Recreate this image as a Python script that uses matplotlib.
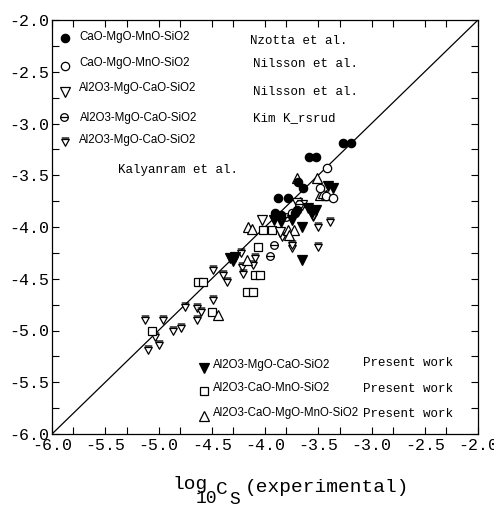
import numpy as np
import matplotlib
matplotlib.use("Agg")
import matplotlib.pyplot as plt
from matplotlib.path import Path
from matplotlib.ticker import MultipleLocator, FixedLocator

# data (log10 Cs, experimental vs calculated)
nzotta_x = [-3.27, -3.19, -3.59, -3.52, -3.69, -3.64, -3.88, -3.78, -3.91, -3.85, -3.70, -3.72]
nzotta_y = [-3.19, -3.19, -3.32, -3.32, -3.57, -3.62, -3.72, -3.72, -3.86, -3.88, -3.84, -3.86]

nilsson1_x = [-3.42, -3.48, -3.43, -3.36, -3.75]
nilsson1_y = [-3.43, -3.62, -3.70, -3.72, -3.86]

nilsson2_x = [-4.03, -3.70, -3.65, -3.55, -3.86]
nilsson2_y = [-3.93, -3.77, -3.79, -3.88, -4.05]

kim_x = [-3.92, -3.95, -3.80, -3.68]
kim_y = [-4.17, -4.28, -3.90, -3.78]

kaly_x = [-5.13, -4.96, -5.03, -5.10, -5.00, -4.86, -4.79, -4.75, -4.64, -4.60, -4.64,
          -4.49, -4.39, -4.36, -4.49, -4.23, -4.22, -4.21, -4.11, -4.09, -3.84, -3.75,
          -3.50, -3.39, -3.55, -3.50, -3.75]
kaly_y = [-4.90, -4.90, -5.06, -5.19, -5.14, -5.00, -4.98, -4.77, -4.78, -4.82, -4.90,
          -4.42, -4.46, -4.53, -4.71, -4.25, -4.39, -4.45, -4.37, -4.30, -4.10, -4.20,
          -4.19, -3.95, -3.90, -4.00, -4.17]

pw1_x = [-3.41, -3.36, -3.60, -3.52, -3.56, -3.65, -3.75, -3.92, -3.85, -3.65, -4.33, -4.28, -4.30]
pw1_y = [-3.60, -3.62, -3.82, -3.84, -3.86, -4.00, -3.93, -3.93, -3.95, -4.32, -4.30, -4.29, -4.33]

pw2_x = [-4.63, -4.58, -4.17, -4.11, -4.09, -4.05, -4.50, -4.07, -5.06, -4.02, -3.93]
pw2_y = [-4.53, -4.53, -4.63, -4.63, -4.46, -4.46, -4.82, -4.19, -5.00, -4.03, -4.03]

pw3_x = [-3.70, -3.51, -3.48, -3.43, -4.16, -3.78, -3.73, -3.46, -3.67, -4.17, -4.44, -3.77, -4.12]
pw3_y = [-3.53, -3.53, -3.69, -3.69, -4.00, -4.03, -4.03, -3.67, -3.76, -4.32, -4.85, -4.08, -4.02]

ticks = [-6.0, -5.5, -5.0, -4.5, -4.0, -3.5, -3.0, -2.5, -2.0]

# custom markers
kim_marker = Path.make_compound_path(
    Path.unit_circle(), Path([(-1, 0), (1, 0)], [Path.MOVETO, Path.LINETO]))
kaly_marker = Path([(-1, 0.8), (1, 0.8), (0, -1), (-1, 0.8), (-1, 1.2), (1, 1.2)],
                   [Path.MOVETO, Path.LINETO, Path.LINETO, Path.CLOSEPOLY,
                    Path.MOVETO, Path.LINETO])

mono = "Liberation Mono"
sans = "Liberation Sans"

fig = plt.figure(figsize=(4.94, 5.08), dpi=100)
ax = fig.add_axes([52 / 494, 74 / 508, 426 / 494, 414 / 508])

ax.plot([-6, -2], [-6, -2], color="black", lw=0.9, zorder=1)

ms = 6.5
styles = {
    "nzotta": dict(marker="o", mfc="black", mec="black", ms=ms - 0.5),
    "nilsson1": dict(marker="o", mfc="white", mec="black", ms=ms - 0.5),
    "nilsson2": dict(marker="v", mfc="white", mec="black", ms=ms),
    "kim": dict(marker=kim_marker, mfc="white", mec="black", ms=ms - 1),
    "kaly": dict(marker=kaly_marker, mfc="white", mec="black", ms=ms),
    "pw1": dict(marker="v", mfc="black", mec="black", ms=ms),
    "pw2": dict(marker="s", mfc="white", mec="black", ms=ms - 1),
    "pw3": dict(marker="^", mfc="white", mec="black", ms=ms),
}
series = [("kaly", kaly_x, kaly_y), ("pw2", pw2_x, pw2_y), ("pw3", pw3_x, pw3_y),
          ("nilsson2", nilsson2_x, nilsson2_y), ("kim", kim_x, kim_y),
          ("nilsson1", nilsson1_x, nilsson1_y), ("pw1", pw1_x, pw1_y),
          ("nzotta", nzotta_x, nzotta_y)]
for key, xs, ys in series:
    ax.plot(xs, ys, ls="none", mew=0.9, zorder=3, **styles[key])

ax.set_xlim(-6, -2)
ax.set_ylim(-6, -2)
ax.xaxis.set_major_locator(FixedLocator(ticks))
ax.yaxis.set_major_locator(FixedLocator(ticks))
ax.xaxis.set_minor_locator(FixedLocator([t + 0.2 for t in ticks[:-1]]))
ax.yaxis.set_minor_locator(MultipleLocator(0.25))
ax.set_xticklabels(["%.1f" % t for t in ticks], fontfamily=mono, fontsize=12)
ax.set_yticklabels(["%.1f" % t for t in ticks], fontfamily=mono, fontsize=12)
ax.tick_params(which="both", direction="in", top=True, right=True, length=5, width=0.8, pad=2)
ax.tick_params(axis="x", pad=3)
for s in ax.spines.values():
    s.set_linewidth(0.9)

# legends, placed by hand
def fx(px):
    return (px - 52) / 426

def fy(py):
    return (434 - py) / 414

def entry(key, mpx, mpy, label, tpx, tpy, author, apx, apy):
    ax.plot([fx(mpx)], [fy(mpy)], transform=ax.transAxes, clip_on=False, ls="none",
            mew=0.9, **styles[key])
    ax.text(fx(tpx), fy(tpy), label, transform=ax.transAxes, fontfamily=sans,
            fontsize=8.3, va="center", ha="left")
    if author:
        ax.text(fx(apx), fy(apy), author, transform=ax.transAxes, fontfamily=mono,
                fontsize=9, va="center", ha="left")

entry("nzotta", 65, 38, "CaO-MgO-MnO-SiO2", 79, 37, "Nzotta et al.", 250, 41)
entry("nilsson1", 65, 66, "CaO-MgO-MnO-SiO2", 79, 63, "Nilsson et al.", 253, 64)
entry("nilsson2", 65, 92, "Al2O3-MgO-CaO-SiO2", 79, 88, "Nilsson et al.", 253, 92)
entry("kim", 64, 117, "Al2O3-MgO-CaO-SiO2", 80, 118, "Kim K_rsrud", 253, 118)
entry("kaly", 65, 142, "Al2O3-MgO-CaO-SiO2", 79, 140, None, 0, 0)
ax.text(fx(118), fy(170), "Kalyanram et al.", transform=ax.transAxes, fontfamily=mono,
        fontsize=9, va="center", ha="left")

entry("pw1", 204, 368, "Al2O3-MgO-CaO-SiO2", 213, 365, "Present work", 363, 363)
entry("pw2", 204, 391, "Al2O3-CaO-MnO-SiO2", 213, 388, "Present work", 363, 389)
entry("pw3", 204, 416, "Al2O3-CaO-MgO-MnO-SiO2", 213, 413, "Present work", 363, 414)

# x label: log10 Cs (experimental)
def ftext(px, py, s, size):
    fig.text(px / 494, 1 - py / 508, s, fontfamily=mono, fontsize=size,
             ha="left", va="baseline")

ftext(172, 489, "log", 14)
ftext(196, 503, "10", 13)
ftext(216, 494, "C", 14)
ftext(229, 504, "S", 13)
ftext(245, 492, "(experimental)", 14)

fig.savefig("out.png", dpi=100)
